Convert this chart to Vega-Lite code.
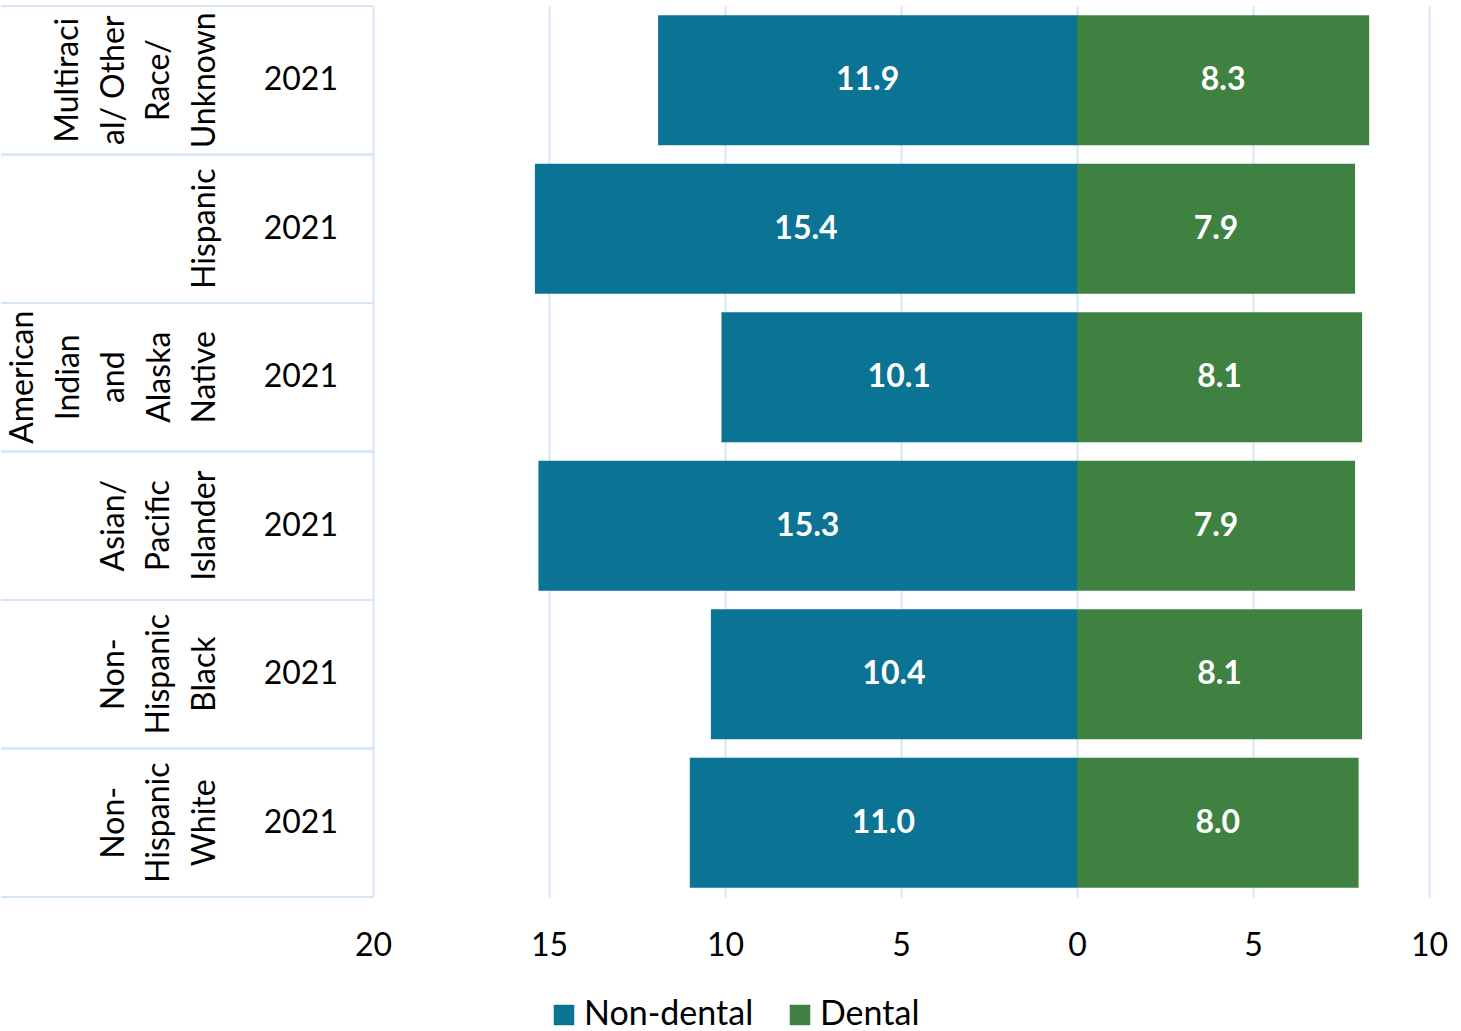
{
  "$schema": "https://vega.github.io/schema/vega-lite/v6.json",
  "background": "white",
  "padding": {"left": 0, "top": 5, "right": 0, "bottom": 0},
  "spacing": 0,
  "bounds": "flush",
  "config": {"view": {"stroke": null}, "font": "Lato", "concat": {"spacing": 0}},
  "data": {
    "values": [
      {"group": "Multiracial/ Other Race/ Unknown", "label": "Multiraci\nal/ Other\nRace/\nUnknown", "year": "2021", "type": "Non-dental", "value": 11.9},
      {"group": "Multiracial/ Other Race/ Unknown", "label": "Multiraci\nal/ Other\nRace/\nUnknown", "year": "2021", "type": "Dental", "value": 8.3},
      {"group": "Hispanic", "label": "Hispanic", "year": "2021", "type": "Non-dental", "value": 15.4},
      {"group": "Hispanic", "label": "Hispanic", "year": "2021", "type": "Dental", "value": 7.9},
      {"group": "American Indian and Alaska Native", "label": "American\nIndian\nand\nAlaska\nNative", "year": "2021", "type": "Non-dental", "value": 10.1},
      {"group": "American Indian and Alaska Native", "label": "American\nIndian\nand\nAlaska\nNative", "year": "2021", "type": "Dental", "value": 8.1},
      {"group": "Asian/ Pacific Islander", "label": "Asian/\nPacific\nIslander", "year": "2021", "type": "Non-dental", "value": 15.3},
      {"group": "Asian/ Pacific Islander", "label": "Asian/\nPacific\nIslander", "year": "2021", "type": "Dental", "value": 7.9},
      {"group": "Non-Hispanic Black", "label": "Non-\nHispanic\nBlack", "year": "2021", "type": "Non-dental", "value": 10.4},
      {"group": "Non-Hispanic Black", "label": "Non-\nHispanic\nBlack", "year": "2021", "type": "Dental", "value": 8.1},
      {"group": "Non-Hispanic White", "label": "Non-\nHispanic\nWhite", "year": "2021", "type": "Non-dental", "value": 11.0},
      {"group": "Non-Hispanic White", "label": "Non-\nHispanic\nWhite", "year": "2021", "type": "Dental", "value": 8.0}
    ]
  },
  "hconcat": [
    {
      "width": 372,
      "height": 891,
      "transform": [{"filter": "datum.type === 'Dental'"}],
      "encoding": {
        "y": {"field": "group", "type": "nominal", "sort": null, "axis": null, "scale": {"paddingInner": 0, "paddingOuter": 0}}
      },
      "layer": [
        {
          "mark": {"type": "rule", "color": "#D5E5F6", "strokeWidth": 2},
          "encoding": {
            "y": {"field": "group", "type": "nominal", "sort": null, "bandPosition": 0, "axis": null}
          }
        },
        {
          "mark": {"type": "rule", "color": "#D5E5F6", "strokeWidth": 2},
          "encoding": {
            "y": {"field": "group", "type": "nominal", "sort": null, "bandPosition": 1, "axis": null}
          }
        },
        {
          "transform": [{"filter": {"field": "group", "oneOf": ["Hispanic"]}}],
          "mark": {"type": "text", "angle": 270, "baseline": "bottom", "align": "center", "fontSize": 32, "lineHeight": 45.5, "lineBreak": "\n", "color": "#000000"},
          "encoding": {
            "x": {"datum": 0.594, "type": "quantitative", "scale": {"domain": [0, 1], "nice": false, "zero": false}, "axis": null},
            "text": {"field": "label"}
          }
        },
        {
          "transform": [{"filter": {"field": "group", "oneOf": ["Asian/ Pacific Islander", "Non-Hispanic Black", "Non-Hispanic White"]}}],
          "mark": {"type": "text", "angle": 270, "baseline": "bottom", "align": "center", "fontSize": 32, "lineHeight": 45.5, "lineBreak": "\n", "color": "#000000"},
          "encoding": {
            "x": {"datum": 0.349, "type": "quantitative", "axis": null},
            "text": {"field": "label"}
          }
        },
        {
          "transform": [{"filter": {"field": "group", "oneOf": ["Multiracial/ Other Race/ Unknown"]}}],
          "mark": {"type": "text", "angle": 270, "baseline": "bottom", "align": "center", "fontSize": 32, "lineHeight": 45.5, "lineBreak": "\n", "color": "#000000"},
          "encoding": {
            "x": {"datum": 0.227, "type": "quantitative", "axis": null},
            "text": {"field": "label"}
          }
        },
        {
          "transform": [{"filter": {"field": "group", "oneOf": ["American Indian and Alaska Native"]}}],
          "mark": {"type": "text", "angle": 270, "baseline": "bottom", "align": "center", "fontSize": 32, "lineHeight": 45.5, "lineBreak": "\n", "color": "#000000"},
          "encoding": {
            "x": {"datum": 0.105, "type": "quantitative", "axis": null},
            "text": {"field": "label"}
          }
        },
        {
          "mark": {"type": "text", "baseline": "middle", "align": "center", "fontSize": 32, "color": "#000000"},
          "encoding": {
            "x": {"datum": 0.806, "type": "quantitative", "axis": null},
            "text": {"field": "year"}
          }
        }
      ]
    },
    {
      "width": 1056,
      "height": 891,
      "encoding": {
        "y": {"field": "group", "type": "nominal", "sort": null, "axis": null, "scale": {"paddingInner": 0, "paddingOuter": 0}}
      },
      "layer": [
        {
          "transform": [{"filter": "datum.type === 'Non-dental'"}],
          "mark": {"type": "bar", "height": {"band": 0.875}},
          "encoding": {
            "x": {
              "field": "value", "type": "quantitative",
              "scale": {"domain": [-10, 20], "reverse": true, "nice": false, "zero": false},
              "axis": {
                "values": [20, 15, 10, 5, 0, -5, -10],
                "labelExpr": "abs(datum.value)",
                "grid": true, "gridColor": "#D5E5F6", "gridWidth": 2,
                "domain": false, "ticks": false, "tickSize": 0,
                "labelFontSize": 32, "labelColor": "#000000", "labelPadding": 33,
                "labelFlush": false, "labelOverlap": false, "title": null
              }
            },
            "x2": {"datum": 0},
            "color": {
              "field": "type", "type": "nominal",
              "scale": {"domain": ["Non-dental", "Dental"], "range": ["#0B7393", "#3E8140"]},
              "legend": {
                "orient": "none", "legendX": 546, "legendY": 992, "direction": "horizontal",
                "title": null, "symbolType": "square", "symbolSize": 420, "symbolStrokeWidth": 0,
                "labelFontSize": 34, "labelColor": "#000000", "columnPadding": 29, "labelOffset": 3, "labelLimit": 400
              }
            }
          }
        },
        {
          "transform": [{"filter": "datum.type === 'Dental'"}],
          "mark": {"type": "bar", "height": {"band": 0.875}},
          "encoding": {
            "x": {"field": "value", "type": "quantitative", "scale": {"domain": [-20, 10], "nice": false, "zero": false}, "axis": null},
            "x2": {"datum": 0},
            "color": {"field": "type", "type": "nominal"}
          }
        },
        {
          "transform": [{"filter": "datum.type === 'Non-dental'"}],
          "mark": {"type": "text", "color": "white", "fontWeight": "bold", "fontSize": 32, "baseline": "middle", "align": "center"},
          "encoding": {
            "x": {"field": "value", "type": "quantitative", "scale": {"domain": [-20, 40], "reverse": true, "nice": false, "zero": false}, "axis": null},
            "text": {"field": "value", "type": "quantitative", "format": ".1f"}
          }
        },
        {
          "transform": [{"filter": "datum.type === 'Dental'"}],
          "mark": {"type": "text", "color": "white", "fontWeight": "bold", "fontSize": 32, "baseline": "middle", "align": "center"},
          "encoding": {
            "x": {"field": "value", "type": "quantitative", "scale": {"domain": [-40, 20], "nice": false, "zero": false}, "axis": null},
            "text": {"field": "value", "type": "quantitative", "format": ".1f"}
          }
        }
      ],
      "resolve": {"scale": {"x": "independent"}}
    }
  ]
}
